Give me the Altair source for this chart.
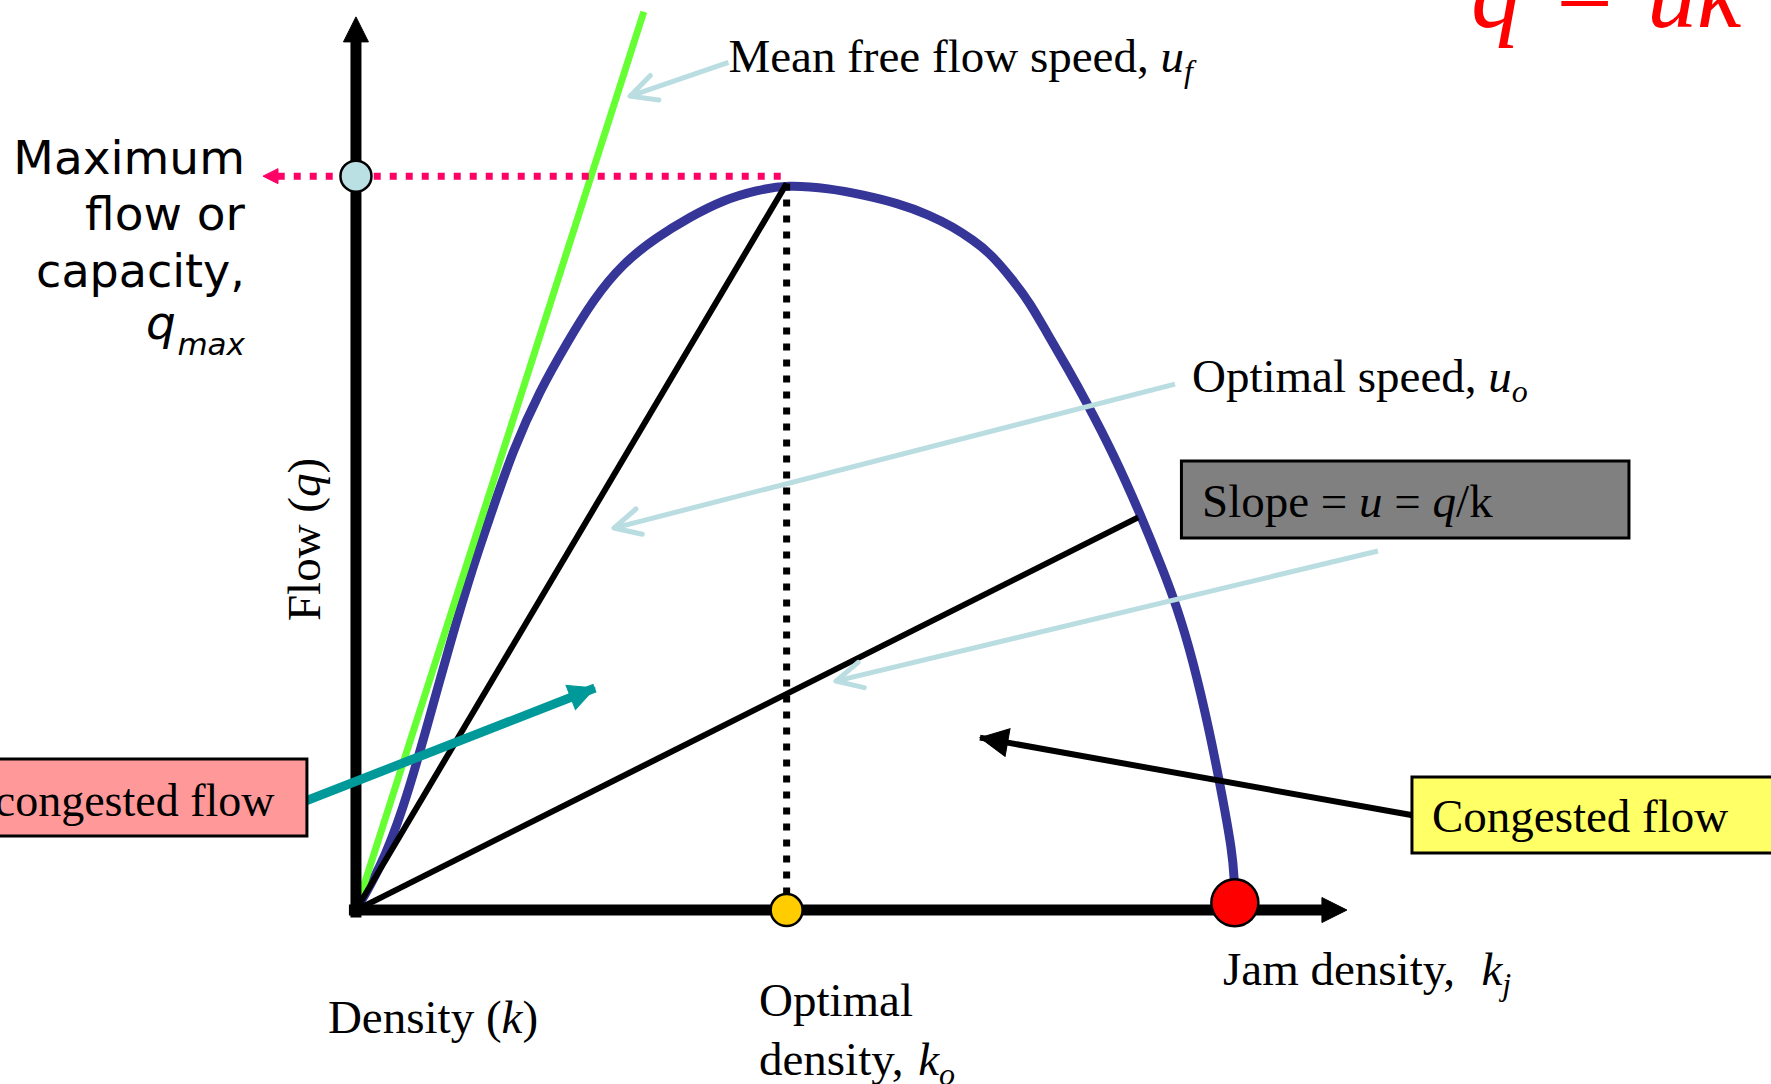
import math
import altair as alt
import pandas as pd

# Canvas and coordinate frame: density k in % of jam density, flow q in % of capacity
W, H = 1771, 1084
K_MIN, K_MAX = -40.5, 161.0
Q_MIN, Q_MAX = -23.7, 124.0
PXK = W / (K_MAX - K_MIN)   # pixels per density unit
PXQ = H / (Q_MAX - Q_MIN)   # pixels per flow unit

# Flow-density relationship (fundamental diagram)
density = [0, 2.7, 5.35, 8.08, 10.7, 13.54, 15.25, 17.86, 20.94, 24.0, 26.96, 30.38,
           34.25, 38.0, 41.76, 45.63, 49.0, 53.93, 57.69, 61.55, 65.31, 67.93, 70.2,
           72.14, 74.75, 76.69, 78.62, 80.9, 83.17, 86.13, 89.2, 91.82, 93.41, 95.23,
           97.17, 98.65, 99.67, 99.95, 100.0, 100.0]
flow = [0, 5.5, 13.6, 24.9, 36.4, 47.69, 53.55, 62.68, 70.85, 77.26, 83.12, 88.16,
        91.7, 94.43, 96.74, 98.1, 98.8, 98.34, 97.43, 96.34, 94.7, 93.07, 91.29,
        89.52, 85.84, 82.71, 78.62, 73.99, 69.08, 62.27, 54.09, 46.33, 41.29, 34.06,
        24.12, 14.99, 8.18, 4.1, 1.5, 1.0]

K_OPT = 49.0        # optimal density k_o
K_JAM = 100.0       # jam density k_j
Q_CAP = 100.0       # capacity q_max
Q_OPT_TOP = 99.0    # top of the optimal-density guide
UF_END = [32.75, 122.4]      # free-flow speed line end
SLOPE_PT = [89.0, 53.5]      # point on the curve for the u = q/k ray

# Axis extents
Y_AXIS = [-1.0, 119.0, 121.7]     # start, end of shaft, arrow tip
X_AXIS = [-0.8, 110.0, 112.75]

# Pointer arrows: tail k, tail q, tip k, tip q
pointer_uf = [42.38, 115.5, 31.18, 110.9]
pointer_uo = [93.19, 71.67, 29.35, 52.05]
pointer_u = [116.28, 48.92, 54.61, 31.2]
pointer_uncongested = [-6.03, 14.72, 27.19, 30.25]
pointer_congested = [120.38, 12.88, 71.0, 23.49]
cap_arrow = [-8.9, -10.58]        # dotted capacity line start, arrow tip

# Label boxes: k1, k2, q1, q2
box_uncongested = [-42.0, -5.58, 10.08, 20.57]
box_congested = [120.15, 165.0, 7.77, 18.12]
box_slope = [93.92, 144.84, 50.69, 61.18]

xs = alt.Scale(domain=[K_MIN, K_MAX], nice=False, zero=False)
ys = alt.Scale(domain=[Q_MIN, Q_MAX], nice=False, zero=False)


def X(f):
    return alt.X(f, type="quantitative", scale=xs, axis=None)


def Y(f):
    return alt.Y(f, type="quantitative", scale=ys, axis=None)


def segs(rows, color, width, dash=None, cap="butt"):
    df = pd.DataFrame(rows, columns=["k", "q", "k2", "q2"])
    kw = dict(color=color, strokeWidth=width, strokeCap=cap)
    if dash:
        kw["strokeDash"] = dash
    return alt.Chart(df).mark_rule(**kw).encode(
        x=X("k"), y=Y("q"), x2="k2", y2="q2")


def heads(rows, color, length, filled=True, width=5):
    recs = []
    for kt, qt, kh, qh in rows:
        ang = math.degrees(math.atan2(-(qh - qt) * PXQ, (kh - kt) * PXK)) % 360
        recs.append({"k": kh, "q": qh, "a": ang})
    if filled:
        mk = alt.Chart(pd.DataFrame(recs)).mark_point(
            shape="M0,0L-2,-1L-2,1Z", size=length ** 2, filled=True,
            fill=color, stroke=color, strokeWidth=1, opacity=1)
    else:
        mk = alt.Chart(pd.DataFrame(recs)).mark_point(
            shape="M-2,-1L0,0L-2,1", size=length ** 2, filled=False,
            stroke=color, strokeWidth=width, strokeCap="round",
            strokeJoin="round", opacity=1)
    return mk.encode(x=X("k"), y=Y("q"), angle=alt.Angle("a:Q", scale=None))


def circles(rows, fill, diameter):
    df = pd.DataFrame(rows, columns=["k", "q"])
    return alt.Chart(df).mark_point(
        shape="circle", size=diameter ** 2, filled=True, fill=fill,
        stroke="black", strokeWidth=2.5, opacity=1).encode(x=X("k"), y=Y("q"))


def box(b, fill):
    df = pd.DataFrame([b], columns=["k", "k2", "q", "q2"])
    return alt.Chart(df).mark_rect(
        fill=fill, stroke="black", strokeWidth=3, clip=True).encode(
        x=X("k"), x2="k2", y=Y("q"), y2="q2")


# Times-compatible advance widths (per 1000 em)
TIMES_R = {' ': 250, ',': 250, '(': 333, ')': 333, '=': 564, '/': 278,
           'C': 667, 'D': 722, 'J': 389, 'M': 889, 'O': 722, 'S': 556, 'F': 556,
           'a': 444, 'c': 444, 'd': 500, 'e': 444, 'f': 333, 'g': 500, 'i': 278,
           'k': 500, 'l': 278, 'm': 778, 'n': 500, 'o': 500, 'p': 500, 'r': 333,
           's': 389, 't': 278, 'u': 500, 'w': 722, 'y': 500}
TIMES_I = {'u': 500, 'q': 500, 'k': 444, 'f': 278, 'o': 500, 'j': 278}

R, I, S = (False, False), (True, False), (True, True)   # (italic, subscript)
MAIN, SUB = 47, 32

labels = [
    (42.38, 114.2, [("Mean free flow speed, ", R), ("u", I), ("f", S)]),
    (95.12, 70.58, [("Optimal speed, ", R), ("u", I), ("o", S)]),
    (96.26, 53.55, [("Slope = ", R), ("u", I), (" = ", R), ("q", I), ("/k", R)]),
    (122.42, 10.63, [("Congested flow", R)]),
    (-3.19, -16.76, [("Density (", R), ("k", I), (")", R)]),
    (45.85, -14.44, [("Optimal", R)]),
    (45.85, -22.48, [("density, ", R), ("k", I), ("o", S)]),
    (98.65, -10.22, [("Jam density,  ", R), ("k", I), ("j", S)]),
]
flow_title = (-4.10, 39.38, [("Flow (", R), ("q", I), (")", R)])


def advance(txt, ital, size):
    tbl = TIMES_I if ital else TIMES_R
    return sum(tbl.get(c, 500) for c in txt) * size / 1000


def layout(k0, q0, parts, vertical=False):
    """Place each run of a mixed roman/italic label one after another."""
    rom, ita = [], []
    off = 0.0
    for txt, (ital, sub) in parts:
        size = SUB if sub else MAIN
        lead = len(txt) - len(txt.lstrip(" "))
        off += advance(" " * lead, ital, size)
        body = txt.strip(" ")
        if vertical:
            row = {"k": k0, "q": q0 + off / PXQ, "t": body, "s": size}
        else:
            row = {"k": k0 + off / PXK, "q": q0 - (10 / PXQ if sub else 0),
                   "t": body, "s": size}
        (ita if ital else rom).append(row)
        off += advance(txt.lstrip(" "), ital, size)
    return rom, ita


roman_rows, italic_rows = [], []
for k0, q0, parts in labels:
    r_, i_ = layout(k0, q0, parts)
    roman_rows += r_
    italic_rows += i_
vert_r, vert_i = layout(*flow_title, vertical=True)


def texts(rows, italic=False, angle=0, font="Liberation Serif", color="black",
          align="left", clip=False):
    kw = dict(align=align, baseline="alphabetic", font=font, color=color,
              fontStyle="italic" if italic else "normal", clip=clip)
    if angle:
        kw["angle"] = angle
    return alt.Chart(pd.DataFrame(rows)).mark_text(**kw).encode(
        x=X("k"), y=Y("q"), text="t:N", size=alt.Size("s:Q", scale=None))


curve = alt.Chart(pd.DataFrame({"k": density, "q": flow,
                                "i": range(len(flow))})).mark_line(
    color="#363699", strokeWidth=9, interpolate="basis", strokeCap="round",
    strokeJoin="round").encode(x=X("k"), y=Y("q"), order="i:Q")

layers = [
    curve,
    segs([[0, 0] + UF_END], "#66ff33", 7),
    segs([[0, 0, K_OPT, Q_OPT_TOP], [0, 0] + SLOPE_PT], "black", 6),
    segs([pointer_uf, pointer_uo, pointer_u], "#b9dde1", 5),
    heads([pointer_uf, pointer_uo, pointer_u], "#b9dde1", 26, filled=False, width=5),
    segs([[K_OPT, Q_OPT_TOP, K_OPT, 0]], "black", 7, dash=[7, 9]),
    segs([[cap_arrow[0], Q_CAP, K_OPT, Q_CAP]], "#ff0066", 7, dash=[7, 9]),
    heads([[0, Q_CAP, cap_arrow[1], Q_CAP]], "#ff0066", 15),
    segs([[0, Y_AXIS[0], 0, Y_AXIS[1]], [X_AXIS[0], 0, X_AXIS[1], 0]], "black", 11),
    heads([[0, 0, 0, Y_AXIS[2]], [0, 0, X_AXIS[2], 0]], "black", 25),
    circles([[0, Q_CAP]], "#bbe0e3", 31),
    circles([[K_OPT, 0]], "#ffcc00", 32),
    circles([[K_JAM, 1.0]], "#ff0000", 47),
    segs([pointer_uncongested], "#009999", 9),
    heads([pointer_uncongested], "#009999", 26),
    segs([pointer_congested], "black", 6),
    heads([pointer_congested], "black", 28),
    box(box_uncongested, "#ff9999"),
    box(box_congested, "#ffff66"),
    box(box_slope, "#808080"),
    texts(roman_rows),
    texts(italic_rows, italic=True),
    texts(vert_r, angle=270),
    texts(vert_i, italic=True, angle=270),
    texts([{"k": -9.27, "q": 12.88, "t": "Uncongested flow", "s": 46}],
          align="right", clip=True),
    # q = uk
    texts([{"k": 126.86, "q": 120.3, "t": "q", "s": 100},
           {"k": 135.85, "q": 120.3, "t": "=", "s": 100},
           {"k": 146.9, "q": 120.3, "t": "uk", "s": 100}],
          italic=True, color="#ff0000", clip=True),
    # capacity label
    texts([{"k": -12.63, "q": 100.3, "t": "Maximum", "s": 47},
           {"k": -12.63, "q": 92.65, "t": "flow or", "s": 47},
           {"k": -12.63, "q": 84.9, "t": "capacity,", "s": 46}],
          font="DejaVu Sans", align="right"),
    texts([{"k": -20.48, "q": 77.79, "t": "q", "s": 47},
           {"k": -12.63, "q": 75.62, "t": "max", "s": 31}],
          italic=True, font="DejaVu Sans", align="right"),
]

chart = alt.layer(*layers).properties(
    width=W, height=H, padding=0,
    autosize=alt.AutoSizeParams(type="none"),
    background="white",
).configure_view(stroke=None)

chart.save("out.html", embed_options={"renderer": "svg", "actions": False})
